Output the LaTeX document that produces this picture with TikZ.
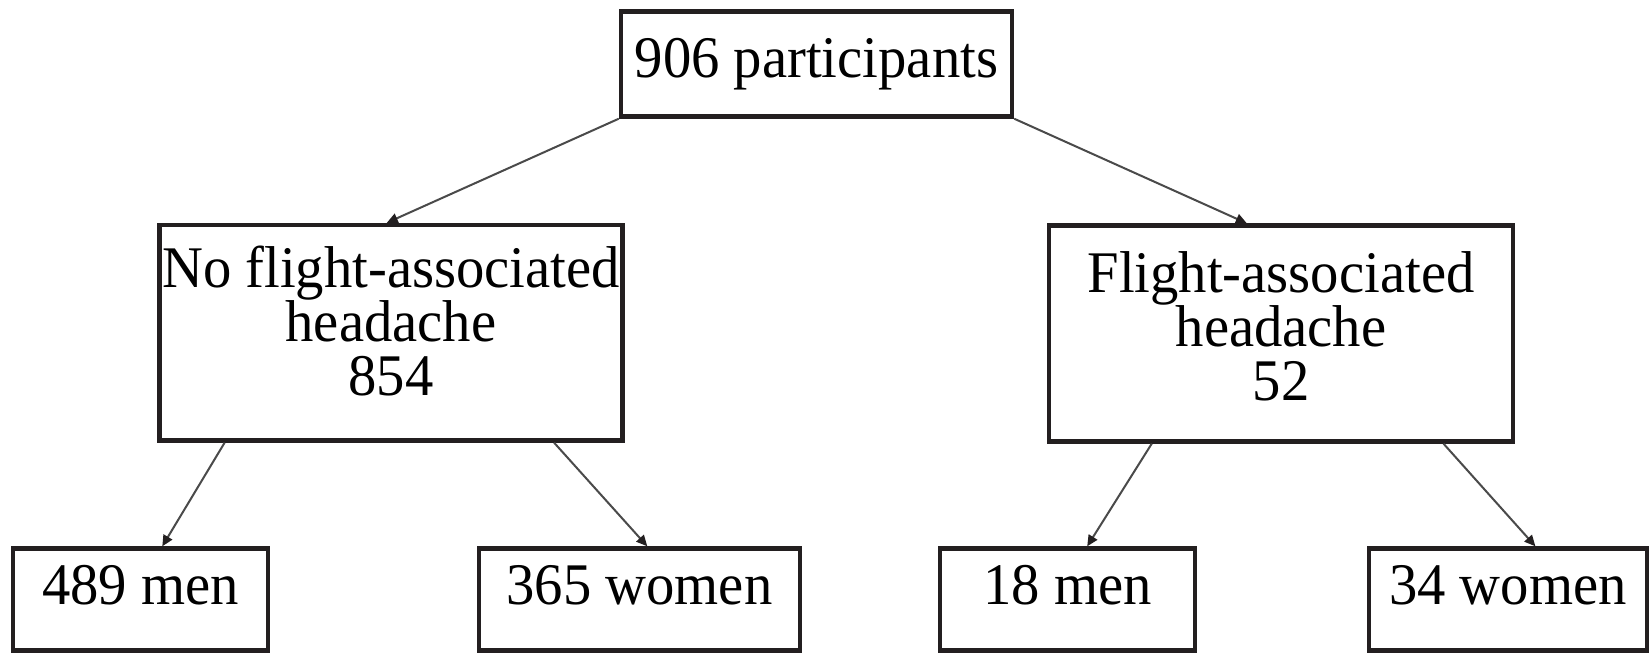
\documentclass[tikz,border=0pt]{standalone}
\usepackage{fontspec}
\setmainfont{Liberation Serif}[FakeStretch=0.96]
\usetikzlibrary{arrows.meta,calc}
\definecolor{boxc}{HTML}{231F20}
\definecolor{arrc}{HTML}{4A4A4A}
\begin{document}
\begin{tikzpicture}[x=0.5pt,y=-0.5pt,
  box/.style={draw=boxc, line width=2.2pt, inner sep=0pt, align=center,
    font=\fontsize{29.5}{27}\selectfont, text=black},
  leaf/.style={box, minimum height=51pt, text height=21pt, text depth=16.5pt},
  arr/.style={draw=arrc, line width=1pt, -{Triangle[length=5.5pt,width=5pt,fill=boxc,color=boxc]}}]
\useasboundingbox[fill=white] (0,0) rectangle (1651,654);

\node[box, minimum width=195.5pt, minimum height=52.5pt, text height=20.5pt, text depth=7.5pt] (top) at (816.5,64) {906 participants};

\node[box, minimum width=231.5pt, minimum height=107.75pt, text height=76pt, text depth=13.75pt] (nofh) at (391,332.75) {No flight-associated\\headache\\854};
\node[box, minimum width=232pt, minimum height=108pt, text height=76pt, text depth=9.5pt] (fh) at (1281,333.5) {Flight-associated\\headache\\52};

\node[leaf, minimum width=127.5pt] (m1) at (140.5,599.5) {489 men};
\node[leaf, minimum width=160.5pt] (w1) at (639.5,599.5) {365 women};
\node[leaf, minimum width=127.5pt] (m2) at (1067.5,599.5) {18 men};
\node[leaf, minimum width=139pt] (w2) at (1508,599.5) {34 women};

\draw[arr] (top.south west) -- ($(nofh.north west)!0.491!(nofh.north east)$);
\draw[arr] (top.south east) -- ($(fh.north west)!0.427!(fh.north east)$);
\draw[arr] ($(nofh.south west)!0.144!(nofh.south east)$) -- ($(m1.north west)!0.584!(m1.north east)$);
\draw[arr] ($(nofh.south west)!0.849!(nofh.south east)$) -- ($(w1.north west)!0.524!(w1.north east)$);
\draw[arr] ($(fh.south west)!0.224!(fh.south east)$) -- ($(m2.north west)!0.576!(m2.north east)$);
\draw[arr] ($(fh.south west)!0.847!(fh.south east)$) -- ($(w2.north west)!0.597!(w2.north east)$);
\end{tikzpicture}
\end{document}
